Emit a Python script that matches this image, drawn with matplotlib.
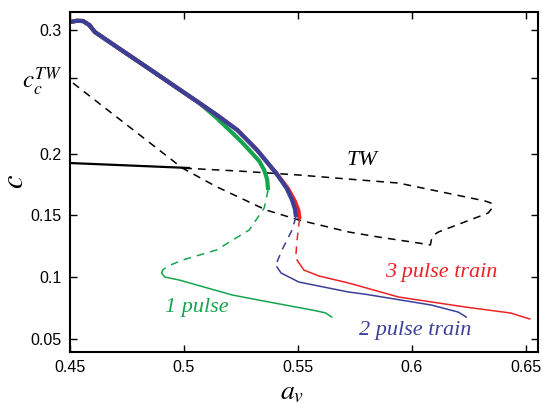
import matplotlib
matplotlib.use('Agg')
import matplotlib.pyplot as plt
import numpy as np

plt.rcParams['mathtext.fontset'] = 'stix'
plt.rcParams['font.family'] = 'Liberation Sans'

# upper (stable) branches, shared part then split
upper_x = [0.4500, 0.4530, 0.4557, 0.4585, 0.4609, 0.4700, 0.4850, 0.5000, 0.5068]
upper_y = [0.3065, 0.3075, 0.3073, 0.3040, 0.2984, 0.2870, 0.2683, 0.2494, 0.2409]
blue_up_x = [0.5068, 0.5150, 0.5234, 0.5320, 0.5404, 0.5450, 0.5474, 0.5487, 0.5491]
blue_up_y = [0.2409, 0.2305, 0.2191, 0.2030, 0.1843, 0.1720, 0.1625, 0.1550, 0.1487]
red_up_x = [0.5068, 0.5150, 0.5234, 0.5320, 0.5404, 0.5455, 0.5485, 0.5502, 0.5507]
red_up_y = [0.2409, 0.2305, 0.2191, 0.2030, 0.1843, 0.1720, 0.1620, 0.1540, 0.1471]
green_up_x = [0.5068, 0.5140, 0.5199, 0.5250, 0.5286, 0.5330, 0.5352, 0.5365, 0.5369]
green_up_y = [0.2409, 0.2295, 0.2191, 0.2100, 0.2029, 0.1940, 0.1867, 0.1790, 0.1706]

# unstable (dashed) middle branches
green_mid_x = [0.5369, 0.5352, 0.5286, 0.5142, 0.4993, 0.4930, 0.4906, 0.4902]
green_mid_y = [0.1706, 0.1560, 0.1382, 0.1220, 0.1139, 0.1090, 0.1058, 0.1034]
blue_mid_x = [0.5491, 0.5474, 0.5430, 0.5408, 0.5405, 0.5408]
blue_mid_y = [0.1487, 0.1382, 0.1220, 0.1123, 0.1100, 0.1083]
red_mid_x = [0.5507, 0.5496, 0.5491, 0.5492, 0.5496]
red_mid_y = [0.1471, 0.1301, 0.1180, 0.1160, 0.1139]

# lower branches
green_low_x = [0.4902, 0.4915, 0.4980, 0.5212, 0.5400, 0.5561, 0.5620, 0.5648]
green_low_y = [0.1034, 0.1002, 0.0977, 0.0856, 0.0790, 0.0735, 0.0712, 0.0678]
blue_low_x = [0.5408, 0.5426, 0.5504, 0.5723, 0.5797, 0.6085, 0.6203, 0.6238]
blue_low_y = [0.1083, 0.1034, 0.0961, 0.0880, 0.0862, 0.0775, 0.0718, 0.0678]
red_low_x = [0.5496, 0.5526, 0.5592, 0.5723, 0.5941, 0.6234, 0.6434, 0.6517]
red_low_y = [0.1139, 0.1058, 0.1010, 0.0953, 0.0840, 0.0759, 0.0710, 0.0662]

# travelling wave branch
tw_solid_x = [0.4500, 0.5022]
tw_solid_y = [0.1924, 0.1884]
tw_dash_x = [0.4513, 0.4993, 0.5142, 0.5360, 0.5504, 0.5723, 0.5854, 0.6028, 0.6081,
             0.6085, 0.6103, 0.6116, 0.6334, 0.6356, 0.6347, 0.6321, 0.5941, 0.5723,
             0.5504, 0.5242, 0.4993]
tw_dash_y = [0.2571, 0.1883, 0.1733, 0.1544, 0.1463, 0.1366, 0.1325, 0.1277, 0.1261,
             0.1301, 0.1350, 0.1366, 0.1519, 0.1568, 0.1600, 0.1617, 0.1762, 0.1794,
             0.1827, 0.1859, 0.1883]

xticks = [0.45, 0.5, 0.55, 0.6, 0.65]
yticks = [0.05, 0.1, 0.15, 0.2, 0.2612, 0.3]
yticklabels = ['0.05', '0.1', '0.15', '0.2', '', '0.3']

BLUE = '#3a3f98'
RED = '#ec2227'
GREEN = '#16a54f'

fig = plt.figure(figsize=(5.42, 4.05), dpi=100)
ax = fig.add_axes([70 / 542, 53 / 405, 468 / 542, 340 / 405])

dash = (0, (5, 4))
ax.plot(tw_dash_x, tw_dash_y, color='black', lw=1.1, ls=dash)
ax.plot(tw_solid_x, tw_solid_y, color='black', lw=1.6)

ax.plot(green_mid_x, green_mid_y, color=GREEN, lw=1.1, ls=dash)
ax.plot(blue_mid_x, blue_mid_y, color=BLUE, lw=1.1, ls=dash)
ax.plot(red_mid_x, red_mid_y, color=RED, lw=1.1, ls=dash)
ax.plot(green_low_x, green_low_y, color=GREEN, lw=1.1)
ax.plot(blue_low_x, blue_low_y, color=BLUE, lw=1.1)
ax.plot(red_low_x, red_low_y, color=RED, lw=1.1)

ax.plot(upper_x + green_up_x[1:], upper_y + green_up_y[1:], color=GREEN, lw=3,
        solid_capstyle='butt', solid_joinstyle='round')
ax.plot(upper_x + red_up_x[1:], upper_y + red_up_y[1:], color=RED, lw=3,
        solid_capstyle='butt', solid_joinstyle='round')
ax.plot(upper_x + blue_up_x[1:], upper_y + blue_up_y[1:], color=BLUE, lw=3,
        solid_capstyle='butt', solid_joinstyle='round')

ax.set_xlim(0.45, 0.6553)
ax.set_ylim(0.0395, 0.3146)
ax.set_xticks(xticks)
ax.set_xticklabels([f'{v:g}' for v in xticks])
ax.set_yticks(yticks)
ax.set_yticklabels(yticklabels)
ax.tick_params(direction='in', top=True, right=True, length=5, width=1, labelsize=11.5, pad=6)
for s in ax.spines.values():
    s.set_linewidth(1.5)

ax.text(-0.017, 0.258, r'$c_c^{TW}$', transform=ax.get_yaxis_transform(),
        ha='right', va='center', fontsize=18)

lab = dict(family='Liberation Serif', style='italic', fontsize=16, ha='center', va='center')
ax.text(0.578, 0.1948, 'TW', color='black', **lab)
ax.text(0.6129, 0.1042, '3 pulse train', color=RED, **lab)
ax.text(0.6015, 0.0573, '2 pulse train', color=BLUE, **lab)
ax.text(0.5055, 0.0759, '1 pulse', color=GREEN, **lab)

fig.text(15 / 542, 1 - 182 / 405, r'$c$', rotation=90, ha='center', va='center', fontsize=22)
fig.text(292 / 542, 1 - 379 / 405, r'$a_v$', ha='center', va='top', fontsize=20)

fig.savefig('out.png', dpi=100)
